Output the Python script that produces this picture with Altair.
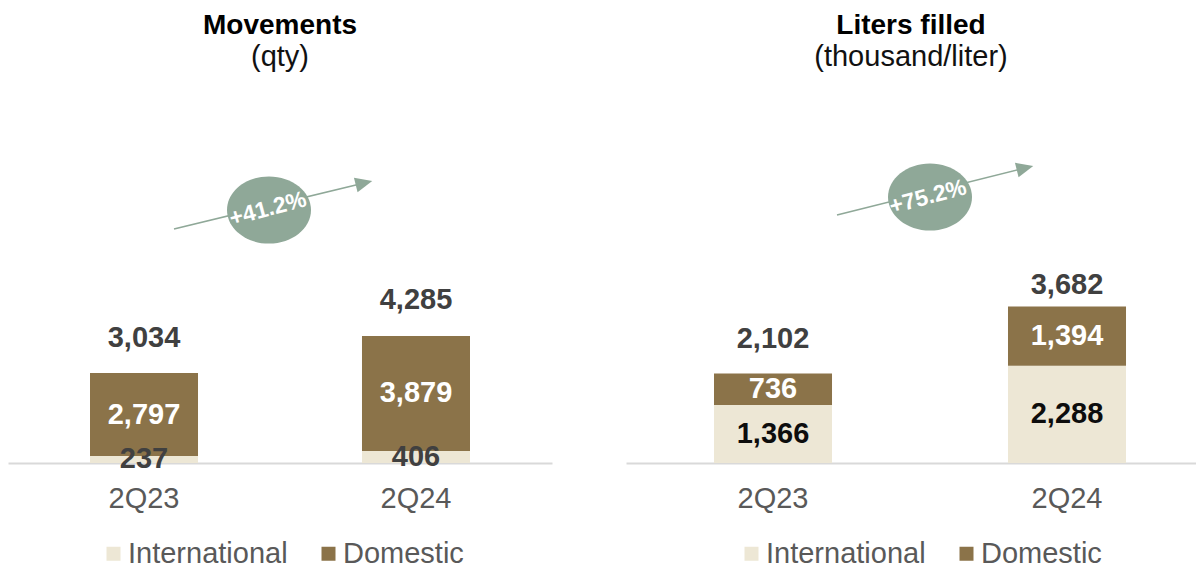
import altair as alt
import pandas as pd

FONT = "Liberation Sans"

quarters = ["2Q23", "2Q24"]
series_names = ["International", "Domestic"]
series_colors = ["#EDE7D5", "#8B7349"]

mov_title = "Movements"
mov_subtitle = "(qty)"
mov_international = [237, 406]
mov_domestic = [2797, 3879]
mov_total = [3034, 4285]
mov_growth = "+41.2%"

lit_title = "Liters filled"
lit_subtitle = "(thousand/liter)"
lit_international = [1366, 2288]
lit_domestic = [736, 1394]
lit_total = [2102, 3682]
lit_growth = "+75.2%"

ACCENT = "#8FA898"
PLOT_H = 455
ELLIPSE = "M-1,0A1,0.8,0,1,1,1,0A1,0.8,0,1,1,-1,0Z"
ARROWHEAD = "M-1,-0.88L1,0L-1,0.88Z"


def panel(title, subtitle, intl, dom, totals, growth, width, ymax,
          pad_inner, pad_outer, align, intl_color, total_dy, ann, legend_x):
    rows = []
    for q, i, d in zip(quarters, intl, dom):
        rows.append({"quarter": q, "series": series_names[0], "value": i, "order": 0})
        rows.append({"quarter": q, "series": series_names[1], "value": d, "order": 1})
    df = pd.DataFrame(rows)

    xenc = alt.X(
        "quarter:N", sort=quarters, title=None,
        scale=alt.Scale(paddingInner=pad_inner, paddingOuter=pad_outer, align=align),
        axis=alt.Axis(labelAngle=0, labelFontSize=29, labelColor="#595959", labelFont=FONT,
                      labelPadding=21, ticks=False, domainColor="#D9D9D9", domainWidth=2,
                      grid=False),
    )
    yscale = alt.Scale(domain=[0, ymax], nice=False, zero=True)

    base = (
        alt.Chart(df)
        .transform_stack(stack="value", groupby=["quarter"], as_=["y0", "y1"],
                         sort=[alt.SortField("order", order="ascending")])
        .transform_calculate(mid="(datum.y0 + datum.y1) / 2")
    )
    bars = base.mark_bar().encode(
        x=xenc,
        y=alt.Y("y0:Q", scale=yscale, axis=None),
        y2="y1:Q",
        color=alt.Color(
            "series:N",
            scale=alt.Scale(domain=series_names, range=series_colors),
            sort=series_names,
            legend=alt.Legend(
                title=None, orient="none", legendX=legend_x, legendY=531,
                direction="horizontal", symbolType="square", symbolSize=196,
                symbolStrokeWidth=0, labelFontSize=29, labelFont=FONT,
                labelColor="#595959", labelOffset=0, columnPadding=26, padding=0,
            ),
        ),
    )
    seg_text = base.mark_text(font=FONT, fontSize=29, fontWeight="bold", baseline="middle").encode(
        x=xenc,
        y=alt.Y("mid:Q", scale=yscale, axis=None),
        text=alt.Text("value:Q", format=","),
        color=alt.condition(alt.datum.series == series_names[1], alt.value("#FFFFFF"),
                            alt.value(intl_color)),
    )

    tot_df = pd.DataFrame({"quarter": quarters, "total": totals})
    tot_layers = []
    for q, dy in zip(quarters, total_dy):
        tot_layers.append(
            alt.Chart(tot_df).transform_filter(alt.datum.quarter == q)
            .mark_text(font=FONT, fontSize=29, fontWeight="bold", baseline="middle",
                       color="#404040", dy=dy)
            .encode(x=xenc, y=alt.Y("total:Q", scale=yscale, axis=None),
                    text=alt.Text("total:Q", format=","))
        )

    tdf = pd.DataFrame({"t": [title]})
    sdf = pd.DataFrame({"t": [subtitle]})
    gdf = pd.DataFrame({"t": [growth]})

    title_l = alt.Chart(tdf).mark_text(font=FONT, fontSize=28, fontWeight="bold",
                                       color="#000000", baseline="middle").encode(
        x=alt.value(width / 2), y=alt.value(18), text="t:N")
    sub_l = alt.Chart(sdf).mark_text(font=FONT, fontSize=29, color="#111111",
                                     baseline="middle").encode(
        x=alt.value(width / 2), y=alt.value(49), text="t:N")

    (sx, sy), (ex, ey), (hx, hy), ang, (cx, cy), (tx, ty) = ann
    arrow = alt.Chart(gdf).mark_rule(color=ACCENT, strokeWidth=1.6).encode(
        x=alt.value(sx), y=alt.value(sy), x2=alt.value(ex), y2=alt.value(ey))
    head = alt.Chart(gdf).mark_point(shape=ARROWHEAD, filled=True, fill=ACCENT,
                                     strokeWidth=0, opacity=1, size=289, angle=ang).encode(
        x=alt.value(hx), y=alt.value(hy))
    ell = alt.Chart(gdf).mark_point(shape=ELLIPSE, filled=True, fill=ACCENT,
                                    strokeWidth=0, opacity=1, size=7056).encode(
        x=alt.value(cx), y=alt.value(cy))
    gtxt = alt.Chart(gdf).mark_text(font=FONT, fontSize=23, fontWeight="bold",
                                    color="#FFFFFF", baseline="middle", angle=345).encode(
        x=alt.value(tx), y=alt.value(ty), text="t:N")

    return alt.layer(bars, seg_text, *tot_layers, title_l, sub_l, arrow, head, ell, gtxt).properties(
        width=width, height=PLOT_H)


left = panel(
    mov_title, mov_subtitle, mov_international, mov_domestic, mov_total, mov_growth,
    width=544, ymax=15350, pad_inner=0.6029, pad_outer=0.3015, align=0.5,
    intl_color="#404040", total_dy=[-35, -36],
    ann=((166, 221), (352, 176), (356, 175), 346, (261, 202), (260, 201)),
    legend_x=91,
)
right = panel(
    lit_title, lit_subtitle, lit_international, lit_domestic, lit_total, lit_growth,
    width=570, ymax=10700, pad_inner=0.5986, pad_outer=0.2687, align=0.557,
    intl_color="#0D0D0D", total_dy=[-35, -21],
    ann=((211, 207), (395, 161), (399, 160), 346, (304, 189), (302, 189)),
    legend_x=111,
)

chart = (
    alt.hconcat(left, right, spacing=74)
    .resolve_scale(color="independent", x="independent", y="independent")
    .properties(padding=0)
    .configure_view(stroke=None)
)

chart.save("out.html", embed_options={"renderer": "svg", "actions": False})
